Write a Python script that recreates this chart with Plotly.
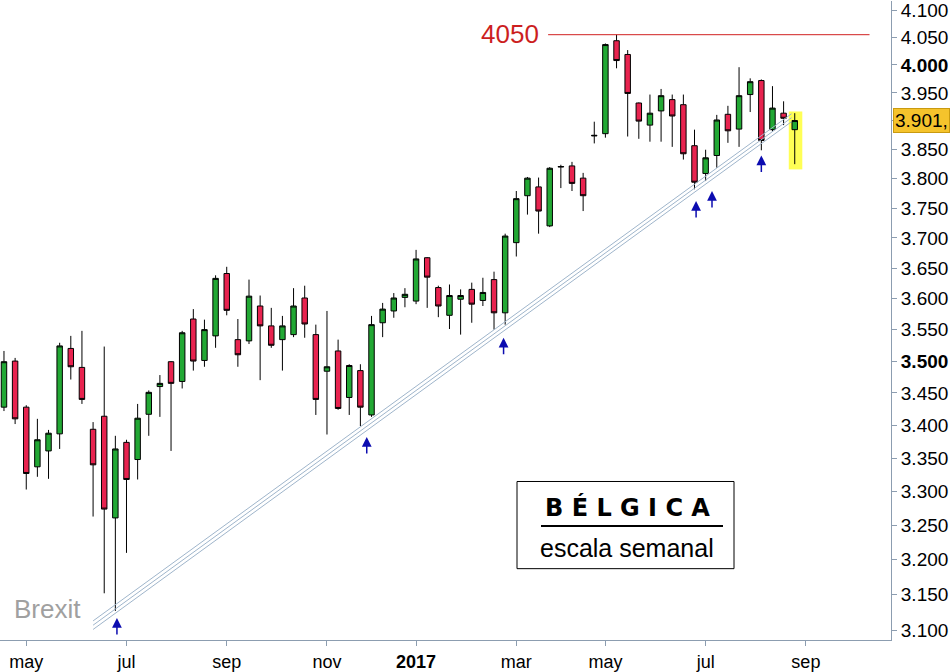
import numpy as np
import pandas as pd
import plotly.graph_objects as go

# velas semanales del índice belga, desde la semana del 18-04-2016
dates = pd.date_range('2016-04-18', periods=72, freq='7D')

open_ = [3428, 3500, 3428, 3337, 3361, 3387, 3520, 3490, 3394, 3414,
         3261, 3374, 3348, 3417, 3460, 3499, 3468, 3567, 3501, 3540,
         3641, 3534, 3532, 3588, 3556, 3534, 3542, 3601, 3542, 3484,
         3516, 3443, 3485, 3416, 3561, 3580, 3602, 3596, 3667, 3618,
         3573, 3599, 3615, 3597, 3631, 3577, 3692, 3771, 3786, 3720,
         3820, 3822, 3801, 3874, 3878, 4044, 4019, 3932, 3893, 3918,
         3938, 3929, 3857, 3809, 3840, 3912, 3886, 3947, 3972, 3885,
         3914, 3885]
high = [3516, 3505, 3431, 3410, 3393, 3529, 3540, 3548, 3405, 3523,
        3384, 3378, 3433, 3454, 3478, 3500, 3548, 3583, 3566, 3638,
        3652, 3567, 3631, 3605, 3585, 3572, 3617, 3621, 3558, 3580,
        3534, 3495, 3495, 3572, 3593, 3609, 3617, 3680, 3668, 3621,
        3623, 3615, 3626, 3634, 3644, 3707, 3779, 3803, 3802, 3820,
        3824, 3829, 3810, 3899, 4039, 4055, 4027, 3933, 3947, 3957,
        3947, 3947, 3885, 3850, 3911, 3927, 3996, 3976, 3974, 3962,
        3935, 3914]
low = [3422, 3402, 3303, 3322, 3319, 3364, 3471, 3433, 3263, 3152,
       3127, 3210, 3318, 3384, 3413, 3361, 3457, 3485, 3491, 3521,
       3573, 3491, 3527, 3470, 3521, 3485, 3538, 3537, 3416, 3386,
       3424, 3416, 3399, 3413, 3538, 3569, 3586, 3591, 3585, 3570,
       3551, 3542, 3561, 3588, 3550, 3558, 3669, 3739, 3707, 3718,
       3784, 3779, 3745, 3861, 3871, 3994, 3873, 3869, 3864, 3864,
       3855, 3833, 3782, 3796, 3819, 3862, 3855, 3916, 3849, 3881,
       3893, 3825]
close = [3499, 3410, 3327, 3378, 3388, 3524, 3491, 3440, 3340, 3274,
         3364, 3318, 3411, 3451, 3465, 3465, 3545, 3500, 3550, 3633,
         3581, 3510, 3604, 3556, 3525, 3556, 3588, 3559, 3440, 3491,
         3426, 3493, 3428, 3558, 3583, 3601, 3607, 3665, 3635, 3588,
         3605, 3605, 3591, 3610, 3577, 3703, 3766, 3801, 3745, 3818,
         3821, 3792, 3771, 3875, 4037, 4008, 3949, 3900, 3914, 3945,
         3909, 3843, 3794, 3836, 3902, 3883, 3945, 3970, 3866, 3923,
         3905, 3901]

# directriz alcista (tres líneas paralelas)
trend_dates = ['2016-06-13', '2017-08-26']
trend_lines = [[3101, 3899], [3107, 3906], [3113, 3913]]

# resistencia 4050
res_dates = ['2017-03-26', '2017-10-14']
res_level = 4055

# flechas de apoyo en la directriz
arrow_dates = ['2016-06-28', '2016-12-02', '2017-02-26', '2017-06-27', '2017-07-07', '2017-08-07']
arrow_tips = [3117, 3382, 3537, 3762, 3779, 3840]

# última vela resaltada
hl_dates = ['2017-08-24 06:00', '2017-09-01 18:00']
hl_prices = [3816, 3917]
last_price = 3901

y_ticks = [3100, 3150, 3200, 3250, 3300, 3350, 3400, 3450, 3500, 3550, 3600,
           3650, 3700, 3750, 3800, 3850, 3950, 4000, 4050, 4100, 3901]
y_labels = ['3.100', '3.150', '3.200', '3.250', '3.300', '3.350', '3.400', '3.450',
            '<b>3.500</b>', '3.550', '3.600', '3.650', '3.700', '3.750', '3.800',
            '3.850', '3.950', '<b>4.000</b>', '4.050', '4.100', '']
x_ticks = ['2016-05-02', '2016-07-04', '2016-09-05', '2016-11-07', '2017-01-02',
           '2017-03-06', '2017-05-01', '2017-07-03', '2017-09-04']
x_labels = ['may', 'jul', 'sep', 'nov', '<b>2017</b>', 'mar', 'may', 'jul', 'sep']

GREEN = '#22a834'
RED = '#e8234f'
AXIS = '#8c9db0'

fig = go.Figure()

# resaltado amarillo por debajo de las velas
fig.add_shape(type='rect', xref='x', yref='y', layer='below',
              x0=hl_dates[0], x1=hl_dates[1], y0=hl_prices[0], y1=hl_prices[1],
              fillcolor='#ffff55', line=dict(width=0))

for tl in trend_lines:
    fig.add_trace(go.Scatter(x=trend_dates, y=tl, mode='lines',
                             line=dict(color='#9fb5cb', width=1), hoverinfo='skip'))

fig.add_trace(go.Scatter(x=res_dates, y=[res_level, res_level], mode='lines',
                         line=dict(color='#d02020', width=1), hoverinfo='skip'))

fig.add_trace(go.Candlestick(
    x=dates, open=open_, high=high, low=low, close=close,
    increasing=dict(fillcolor=GREEN, line=dict(color='black', width=1)),
    decreasing=dict(fillcolor=RED, line=dict(color='black', width=1)),
    whiskerwidth=0))

# flechas azules
for d, p in zip(arrow_dates, arrow_tips):
    fig.add_annotation(x=d, y=np.log10(p), xref='x', yref='y', text='',
                       showarrow=True, ax=0, ay=18, arrowhead=2, arrowsize=1.3,
                       arrowwidth=1.5, arrowcolor='#0c0cb0')

fig.add_annotation(x=541 / 891, y=1 - 33 / 645, xref='paper', yref='paper',
                   text='4050', showarrow=False, xanchor='right', yanchor='middle',
                   font=dict(family='Liberation Sans, Arial', size=26, color='#cc1f1f'))
fig.add_annotation(x=12 / 891, y=1 - 614 / 645, xref='paper', yref='paper',
                   text='Brexit', showarrow=False, xanchor='left', yanchor='middle',
                   font=dict(family='Liberation Sans, Arial', size=26, color='#a0a0a0'))

# recuadro del título
fig.add_shape(type='rect', xref='paper', yref='paper',
              x0=517 / 891, x1=734 / 891, y0=1 - 573 / 645, y1=1 - 485 / 645,
              line=dict(color='black', width=1), fillcolor='white')
fig.add_shape(type='line', xref='paper', yref='paper',
              x0=541 / 891, x1=723 / 891, y0=1 - 530 / 645, y1=1 - 530 / 645,
              line=dict(color='black', width=2))
fig.add_annotation(x=627 / 891, y=1 - 511 / 645, xref='paper', yref='paper',
                   text='<b>B É L G I C A</b>', showarrow=False,
                   xanchor='center', yanchor='middle',
                   font=dict(family='DejaVu Sans', size=24, color='black'))
fig.add_annotation(x=627 / 891, y=1 - 552 / 645, xref='paper', yref='paper',
                   text='escala semanal', showarrow=False,
                   xanchor='center', yanchor='middle',
                   font=dict(family='Liberation Sans, Arial', size=25, color='black'))

# etiqueta del último precio
fig.add_annotation(x=1, xshift=2, y=np.log10(last_price), xref='paper', yref='y',
                   text='3.901,', showarrow=False, xanchor='left', yanchor='middle',
                   bgcolor='#f5c32c', bordercolor='#c99a10', borderwidth=1, borderpad=1,
                   font=dict(family='Liberation Sans, Arial', size=19, color='black'))

fig.update_layout(
    width=950, height=672,
    margin=dict(l=0, r=59, t=0, b=27),
    plot_bgcolor='white', paper_bgcolor='white',
    showlegend=False,
    xaxis=dict(type='date', range=['2016-04-15 12:00', '2017-10-27 12:00'],
               rangeslider=dict(visible=False), showgrid=False, zeroline=False,
               showline=True, linecolor=AXIS, linewidth=1,
               ticks='outside', ticklen=5, tickcolor=AXIS,
               tickvals=x_ticks, ticktext=x_labels, ticklabeloverflow='allow',
               tickfont=dict(family='Liberation Sans Narrow, Arial Narrow, Liberation Sans', size=18, color='black')),
    yaxis=dict(type='log', side='right',
               range=[np.log10(3086.3), np.log10(4117.1)],
               showgrid=False, zeroline=False,
               showline=True, linecolor=AXIS, linewidth=1,
               ticks='outside', ticklen=5, tickcolor=AXIS,
               tickvals=y_ticks, ticktext=y_labels, ticklabeloverflow='allow',
               tickfont=dict(family='Liberation Sans, Arial', size=19, color='black')),
)

# sin el margen por defecto del <body>, la figura ocupa toda la ventana
fig.write_html("out.html", config={'displayModeBar': False},
               post_script="document.body.style.margin='0px';")
